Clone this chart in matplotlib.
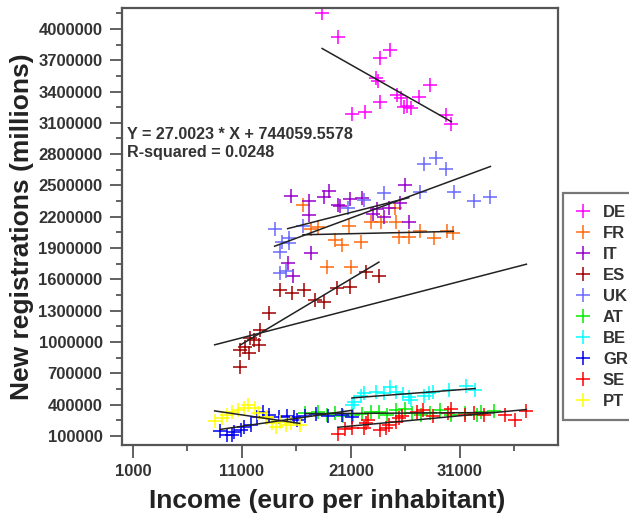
import numpy as np
import matplotlib
matplotlib.use("Agg")
import matplotlib.pyplot as plt
from matplotlib.ticker import FixedLocator

plt.rcParams['font.family'] = ['Liberation Sans', 'DejaVu Sans']
plt.rcParams['font.weight'] = 'bold'

# donnees (revenu en euro/hab, immatriculations)
pays = ["DE", "FR", "IT", "ES", "UK", "AT", "BE", "GR", "SE", "PT"]
couleurs = ["#ff00ff", "#ff6a10", "#9a00cc", "#a00000", "#6a6aff",
            "#00ee00", "#00ffff", "#0000ee", "#ff0000", "#ffff00"]

de_x = [18360, 19830, 23630, 24580, 23260, 23480, 23630, 21120, 22280, 28260,
        25260, 25560, 26180, 26480, 27250, 25870, 29700, 30220]
de_y = [4151000, 3921000, 3720000, 3793000, 3530000, 3496000, 3304000, 3186000, 3203000, 3467000,
        3368000, 3337000, 3263000, 3241000, 3346000, 3256000, 3177000, 3091000]

fr_x = [16600, 17300, 18000, 19500, 20200, 20800, 21900, 22800, 23800, 25000,
        25100, 25400, 26300, 27300, 28600, 29800, 30400, 18800, 21000]
fr_y = [2310000, 2080000, 2100000, 1980000, 1930000, 2110000, 1960000, 2150000, 2150000, 2280000,
        2150000, 2010000, 2010000, 2060000, 1995000, 2060000, 2040000, 1720000, 1720000]

it_x = [15500, 17200, 18500, 19000, 19800, 20900, 22000, 17200, 20000, 23000,
        23400, 24000, 24500, 25500, 26000, 26300, 17300, 15200, 15700]
it_y = [2400000, 2350000, 2390000, 2450000, 2310000, 2370000, 2380000, 2220000, 2300000, 2230000,
        2270000, 2200000, 2280000, 2330000, 2500000, 2150000, 1850000, 1760000, 1630000]

es_x = [10850, 10850, 11310, 11620, 12070, 11770, 12540, 12690, 13450, 14530,
        15600, 16670, 17750, 18510, 19740, 20960, 22340, 23570]
es_y = [764000, 924000, 956000, 893000, 1020000, 1036000, 972000, 1116000, 1282000, 1499000,
        1468000, 1499000, 1404000, 1388000, 1516000, 1531000, 1675000, 1634000]

uk_x = [14000, 16600, 15300, 14700, 14500, 14500, 15000, 15300, 20700, 22200,
        24000, 27300, 27700, 28800, 29700, 30450, 32300, 33800]
uk_y = [2080000, 2110000, 1995000, 1960000, 1860000, 1660000, 1680000, 1950000, 2280000, 2360000,
        2430000, 2440000, 2710000, 2760000, 2660000, 2440000, 2350000, 2390000]

at_x = [16800, 18000, 18800, 19500, 20300, 21200, 22000, 22800, 23600, 24300,
        25100, 26000, 26600, 27400, 28300, 29200, 30200, 31500, 32600, 32900, 34100]
at_y = [317000, 333000, 300000, 320000, 290000, 300000, 310000, 333000, 330000, 300000,
        349000, 360000, 317000, 300000, 317000, 345000, 300000, 317000, 300000, 330000, 340000]

be_x = [21100, 21300, 21900, 22200, 23300, 24000, 24600, 25100, 25800, 26300,
        26500, 27700, 28200, 28500, 30000, 31600, 32400]
be_y = [400000, 430000, 485000, 510000, 525000, 510000, 570000, 525000, 500000, 475000,
        445000, 480000, 510000, 525000, 545000, 575000, 545000]

gr_x = [9000, 9600, 10100, 10300, 10900, 11200, 11800, 12400, 12900, 13500,
        14400, 15100, 15800, 16100, 16800, 17800, 18900, 20200, 21100]
gr_y = [150000, 110000, 110000, 140000, 160000, 190000, 205000, 285000, 330000, 300000,
        285000, 290000, 285000, 253000, 290000, 310000, 290000, 300000, 285000]

se_x = [19800, 20500, 21100, 22200, 22400, 22600, 23700, 24200, 24500, 25100,
        25400, 25700, 27100, 27600, 28500, 29900, 30200, 31500, 32300, 33200,
        35100, 36100, 37100]
se_y = [120000, 170000, 175000, 173000, 220000, 255000, 158000, 175000, 205000, 237000,
        270000, 290000, 333000, 350000, 290000, 320000, 355000, 300000, 317000, 300000,
        300000, 250000, 335000]

pt_x = [8500, 9200, 9600, 10100, 10600, 11200, 11600, 12200, 12500, 13200,
        13300, 13800, 14100, 14500, 15000, 15500, 16300]
pt_y = [240000, 270000, 300000, 330000, 350000, 365000, 395000, 365000, 320000, 275000,
        285000, 220000, 190000, 235000, 205000, 220000, 205000]

xs = [de_x, fr_x, it_x, es_x, uk_x, at_x, be_x, gr_x, se_x, pt_x]
ys = [de_y, fr_y, it_y, es_y, uk_y, at_y, be_y, gr_y, se_y, pt_y]

# regression globale (valeurs affichees sur le graphique)
PENTE = 27.0023
ORDONNEE = 744059.5578
R2 = 0.0248

fig = plt.figure(figsize=(6.29, 5.17), dpi=100)
ax = fig.add_axes([122 / 629, 1 - 445 / 517, 436 / 629, 437 / 517])

for nom, c, x, y in zip(pays, couleurs, xs, ys):
    ax.plot(x, y, linestyle="none", marker="+", markersize=10,
            markeredgewidth=1.1, color=c, label=nom)

for x, y in zip(xs, ys):
    x = np.array(x, dtype=float)
    y = np.array(y, dtype=float)
    a, b = np.polyfit(x, y, 1)
    xx = np.array([x.min(), x.max()])
    ax.plot(xx, a * xx + b, color="#222222", linewidth=1.1)

tous_x = np.concatenate([np.array(x, dtype=float) for x in xs])
xx = np.array([tous_x.min(), tous_x.max()])
ax.plot(xx, PENTE * xx + ORDONNEE, color="#222222", linewidth=1.1)

ax.text(0.012, 0.728, f"Y = {PENTE:.4f} * X + {ORDONNEE:.4f}\nR-squared = {R2:.4f}",
        transform=ax.transAxes, fontsize=11.6, fontweight="bold", color="#333333",
        va="top", ha="left", linespacing=1.25)

ax.set_xlim(0, 40000)
ax.set_ylim(14000, 4200000)
ax.xaxis.set_major_locator(FixedLocator([1000, 11000, 21000, 31000]))
ax.xaxis.set_minor_locator(FixedLocator([6000, 16000, 26000, 36000]))
ax.yaxis.set_major_locator(FixedLocator(np.arange(100000, 4000001, 300000)))
ax.yaxis.set_minor_locator(FixedLocator(np.arange(250000, 4200000, 300000)))
ax.set_yticklabels([str(v) for v in np.arange(100000, 4000001, 300000)])
ax.set_xticklabels(["1000", "11000", "21000", "31000"])

ax.tick_params(which="major", length=9, width=1.3, color="#555555",
               labelsize=12, labelcolor="#333333", pad=5)
ax.tick_params(which="minor", length=4.5, width=1.3, color="#555555")
for s in ax.spines.values():
    s.set_color("#555555")
    s.set_linewidth(1.6)

ax.set_xlabel("Income (euro per inhabitant)", fontsize=19, fontweight="bold",
              color="#222222", labelpad=4)
ax.xaxis.set_label_coords(0.47, -0.1)
ax.set_ylabel("New registrations (millions)", fontsize=19, fontweight="bold",
              color="#222222", labelpad=3)

leg = fig.legend(loc="upper left", bbox_to_anchor=(563 / 629, 1 - 193 / 517),
                 borderaxespad=0, fontsize=12, frameon=True, fancybox=False,
                 handlelength=0.95, handletextpad=0.75, labelspacing=0.36,
                 borderpad=0.7)
leg.get_frame().set_edgecolor("#555555")
leg.get_frame().set_linewidth(1.6)
for t in leg.get_texts():
    t.set_color("#333333")

fig.savefig("out.png", dpi=100)
